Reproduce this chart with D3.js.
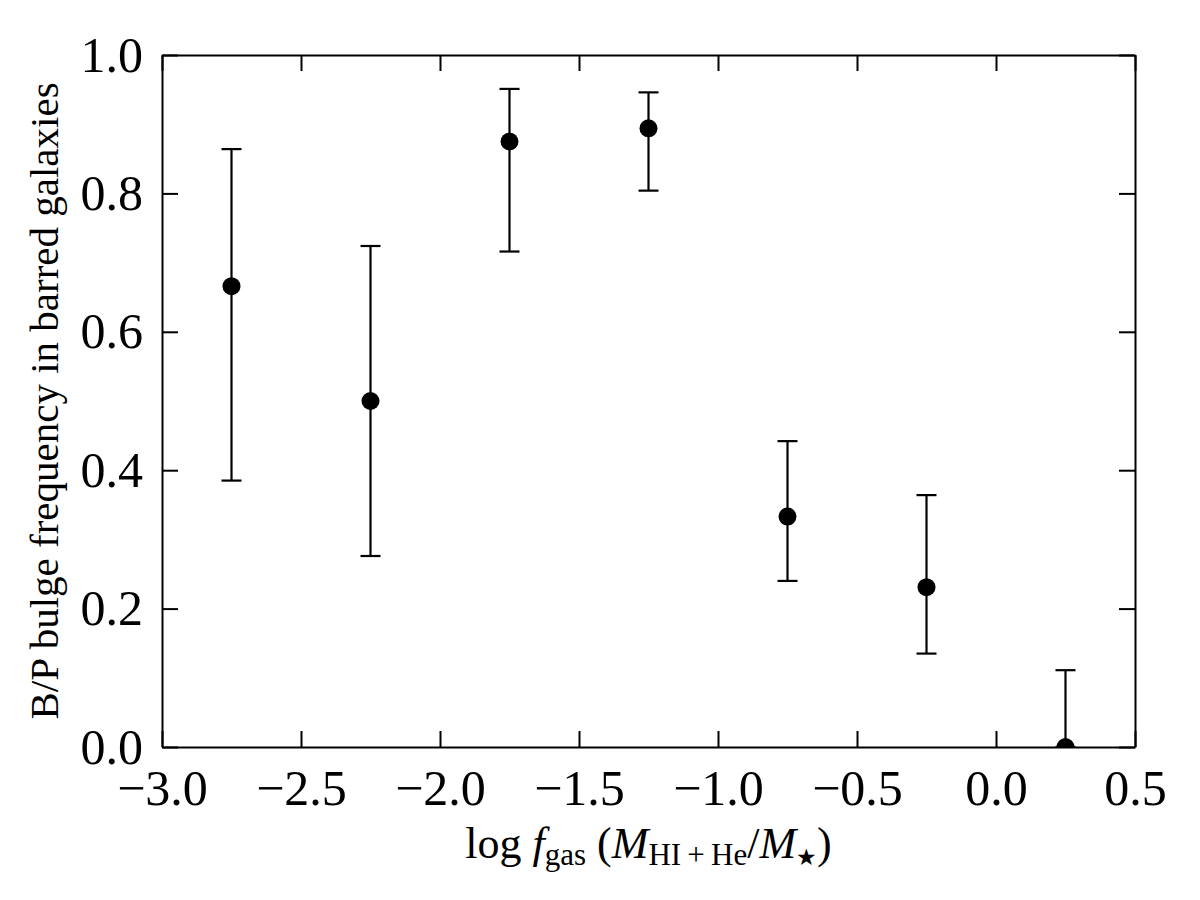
<!DOCTYPE html>
<html>
<head>
<meta charset="utf-8">
<script src="https://cdn.jsdelivr.net/npm/d3@7"></script>
<style>
  body { margin: 0; background: #fff; }
  svg { display: block; font-family: "Liberation Serif", "DejaVu Serif", serif; }
  .eixo path, .eixo line { stroke: #000; stroke-width: 2; }
  .eixo text { font-size: 50px; fill: #000; }
</style>
</head>
<body>
<svg id="grafico"></svg>
<script>
// Dados do gráfico
var xCentros = [-2.75, -2.25, -1.75, -1.25, -0.75, -0.25, 0.25];
var frequencias = [0.666, 0.500, 0.875, 0.894, 0.333, 0.231, 0.000];
var errosSuperior = [0.864, 0.724, 0.951, 0.946, 0.442, 0.364, 0.111];
var errosInferior = [0.385, 0.276, 0.716, 0.804, 0.240, 0.135, 0.000];
var ticksX = [-3.0, -2.5, -2.0, -1.5, -1.0, -0.5, 0.0, 0.5];
var ticksY = [0.0, 0.2, 0.4, 0.6, 0.8, 1.0];

var largura = 1200, altura = 900;
var margem = { esquerda: 162, direita: 65, superior: 55, inferior: 153 };
var larguraPlotagem = largura - margem.esquerda - margem.direita;
var alturaPlotagem = altura - margem.superior - margem.inferior;

var svg = d3.select('#grafico')
            .attr('width', largura)
            .attr('height', altura);

var plotagem = svg.append('g')
                  .attr('transform', 'translate(' + margem.esquerda + ',' + margem.superior + ')');

//Escalas
var x = d3.scaleLinear().domain([-3.0, 0.5]).range([0, larguraPlotagem]);
var y = d3.scaleLinear().domain([0, 1]).range([alturaPlotagem, 0]);

var formato = function(d) { return d3.format('.1f')(d).replace('-', '\u2212'); };

//Eixos com marcas internas
plotagem.append('g').attr('class', 'eixo')
        .attr('transform', 'translate(0,' + alturaPlotagem + ')')
        .call(d3.axisBottom(x).tickValues(ticksX).tickSizeInner(-16).tickSizeOuter(0).tickPadding(22).tickFormat(formato));
plotagem.append('g').attr('class', 'eixo')
        .call(d3.axisTop(x).tickValues(ticksX).tickSizeInner(-16).tickSizeOuter(0).tickFormat(''));
plotagem.append('g').attr('class', 'eixo')
        .call(d3.axisLeft(y).tickValues(ticksY).tickSizeInner(-16).tickSizeOuter(0).tickPadding(19).tickFormat(d3.format('.1f')));
plotagem.append('g').attr('class', 'eixo')
        .attr('transform', 'translate(' + larguraPlotagem + ',0)')
        .call(d3.axisRight(y).tickValues(ticksY).tickSizeInner(-16).tickSizeOuter(0).tickFormat(''));

plotagem.selectAll('.eixo text').attr('font-family', '"Liberation Serif", serif');

//Recorte da área de plotagem
svg.append('defs').append('clipPath').attr('id', 'recorte')
   .append('rect').attr('width', larguraPlotagem).attr('height', alturaPlotagem);

var dados = xCentros.map(function(v, i) {
    return { x: v, y: frequencias[i], sup: errosSuperior[i], inf: errosInferior[i] };
});

var pontos = plotagem.append('g').attr('clip-path', 'url(#recorte)');
var barras = pontos.selectAll('.barra').data(dados).enter().append('g').attr('class', 'barra');

barras.append('line')
      .attr('x1', d => x(d.x)).attr('x2', d => x(d.x))
      .attr('y1', d => y(d.sup)).attr('y2', d => y(d.inf))
      .attr('stroke', '#000').attr('stroke-width', 2.2);
barras.append('line')
      .attr('x1', d => x(d.x) - 10).attr('x2', d => x(d.x) + 10)
      .attr('y1', d => y(d.sup)).attr('y2', d => y(d.sup))
      .attr('stroke', '#000').attr('stroke-width', 2.2);
barras.append('line')
      .attr('x1', d => x(d.x) - 10).attr('x2', d => x(d.x) + 10)
      .attr('y1', d => y(d.inf)).attr('y2', d => y(d.inf))
      .attr('stroke', '#000').attr('stroke-width', 2.2);
barras.append('circle')
      .attr('cx', d => x(d.x)).attr('cy', d => y(d.y))
      .attr('r', 9).attr('fill', '#000');

//Títulos dos eixos
var tituloX = svg.append('text')
     .attr('x', margem.esquerda + larguraPlotagem / 2)
     .attr('y', 858)
     .attr('text-anchor', 'middle')
     .attr('font-size', 44)
     .attr('fill', '#000');
tituloX.append('tspan').text('log ');
tituloX.append('tspan').attr('font-style', 'italic').text('f');
tituloX.append('tspan').attr('font-size', 31).attr('dy', 7).text('gas');
tituloX.append('tspan').attr('dy', -7).text(' (');
tituloX.append('tspan').attr('font-style', 'italic').text('M');
tituloX.append('tspan').attr('font-size', 31).attr('dy', 7).text('HI\u2009+\u2009He');
tituloX.append('tspan').attr('dy', -7).text('/');
tituloX.append('tspan').attr('font-style', 'italic').text('M');
tituloX.append('tspan').attr('font-size', 23).attr('dy', 7).text('\u2605');
tituloX.append('tspan').attr('dy', -7).text(')');

svg.append('text')
   .attr('transform', 'translate(58,' + (margem.superior + alturaPlotagem / 2) + ') rotate(-90)')
   .attr('text-anchor', 'middle')
   .attr('font-size', 41)
   .attr('fill', '#000')
   .text('B/P bulge frequency in barred galaxies');
</script>
</body>
</html>
